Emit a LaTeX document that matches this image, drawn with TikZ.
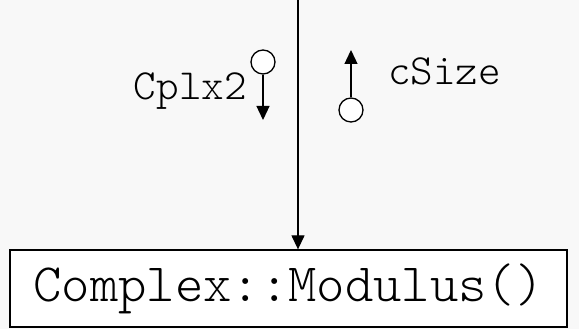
\documentclass[tikz,border=0pt]{standalone}
\usetikzlibrary{arrows.meta}
\definecolor{bg}{HTML}{F8F8F8}
\begin{document}
\begin{tikzpicture}[x=1pt,y=1pt,
  flow/.style={draw=black, line width=1.3pt, -{Triangle[length=14pt,width=13pt]}},
  pin/.style={circle, draw=black, fill=white, line width=1.3pt, minimum size=24pt, inner sep=0pt},
  lbl/.style={font=\ttfamily\fontseries{l}\fontsize{43}{43}\selectfont, inner sep=0pt},
  fnbox/.style={draw=black, fill=white, line width=1.3pt, minimum width=557pt, minimum height=77pt, inner sep=0pt, font=\ttfamily\fontseries{l}\fontsize{54}{54}\selectfont}]
\fill[bg] (0,0) rectangle (579,329);
\useasboundingbox (0,0) rectangle (579,329);
\node[fnbox] (f) at (288.5,40.5) {Complex::Modulus()};
\coordinate (top) at (298,329);
\draw[flow] (top) -- (f.north -| top);
% Cplx2
\node[pin] (p1) at (263,267) {};
\coordinate (p1e) at (263,209);
\draw[flow] (p1.south) -- (p1e);
\node[lbl, anchor=base east] (l1) at (247,229) {Cplx2};
% cSize
\node[pin] (p2) at (351,219) {};
\coordinate (p2e) at (351,279);
\draw[flow] (p2.north) -- (p2e);
\node[lbl, anchor=base west] (l2) at (388,244) {cSize};
\end{tikzpicture}
\end{document}
